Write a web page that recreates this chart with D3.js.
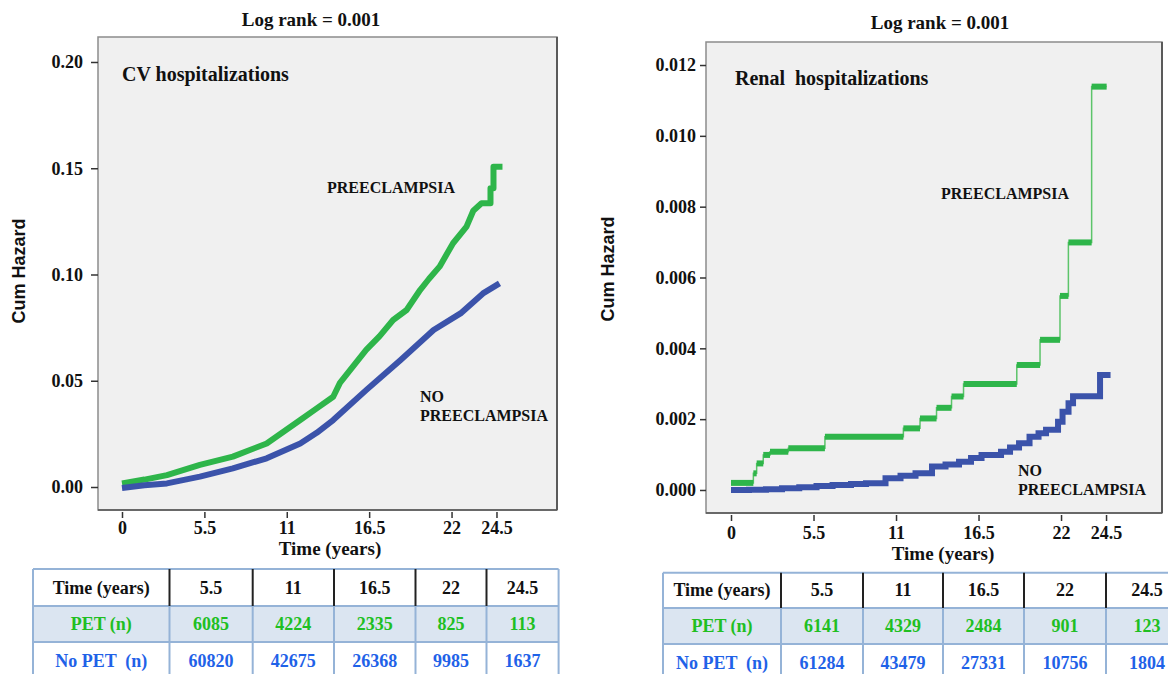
<!DOCTYPE html>
<html><head><meta charset="utf-8">
<script src="https://cdn.jsdelivr.net/npm/d3@7"></script>
<style>body{margin:0;background:#fff}svg{display:block}</style>
</head><body>
<svg id="c" width="1168" height="674"></svg>
<script>
// ---------------- DATA ----------------
const timeTicks = [0, 5.5, 11, 16.5, 22, 25];
const timeTickLabels = ["0", "5.5", "11", "16.5", "22", "24.5"];
const cvYTicks = [0, 0.05, 0.10, 0.15, 0.20];
const renalYTicks = [0, 0.002, 0.004, 0.006, 0.008, 0.010, 0.012];

// CV hospitalizations, cumulative hazard
const cvPETTime   = [0, 1.5, 3.0, 5.2, 7.4, 9.66, 11.9, 13.0, 14.1, 14.55, 16.3, 17.2, 18.1, 19.0, 19.9, 20.5, 21.2, 22.1, 23.0, 23.45, 24.0, 24.6, 24.6, 24.8, 24.8, 25.4];
const cvPETHazard = [0.0017, 0.0035, 0.0056, 0.0104, 0.0143, 0.0205, 0.0315, 0.037, 0.0425, 0.049, 0.0645, 0.071, 0.0786, 0.0833, 0.0927, 0.098, 0.1037, 0.1147, 0.1225, 0.130, 0.1335, 0.1335, 0.1406, 0.1406, 0.1507, 0.1507];
const cvNoPETTime   = [0, 1.5, 3.0, 5.2, 7.4, 9.66, 11.9, 13.0, 14.1, 16.3, 18.6, 20.8, 22.6, 24.1, 25.2];
const cvNoPETHazard = [-0.0005, 0.0008, 0.0017, 0.0049, 0.0088, 0.0135, 0.0205, 0.0255, 0.0315, 0.0456, 0.0598, 0.0739, 0.0817, 0.0911, 0.0958];

// Renal hospitalizations, cumulative hazard (step starts)
const renalPETTime   = [0, 1.49, 1.71, 2.15, 2.6, 3.82, 6.26, 11.49, 12.6, 13.7, 14.7, 15.5, 19.05, 20.6, 21.93, 22.49, 24.04, 25.04];
const renalPETHazard = [0.0002, 0.00047, 0.00075, 0.00099, 0.00108, 0.00118, 0.0015, 0.00174, 0.00202, 0.00232, 0.00264, 0.00299, 0.00353, 0.00424, 0.00548, 0.00699, 0.01139, 0.01139];
const renalNoPETTime   = [0, 1.2, 2.33, 3.4, 4.55, 5.7, 6.77, 8.0, 9.0, 10.3, 11.3, 12.3, 13.4, 14.3, 15.2, 16.0, 16.7, 18.0, 18.6, 19.2, 19.9, 20.5, 21.0, 21.8, 22.1, 22.5, 22.8, 24.6, 25.3];
const renalNoPETHazard = [0, 0.00001, 0.00002, 0.00005, 0.00008, 0.00011, 0.00014, 0.00017, 0.00019, 0.00033, 0.0004, 0.00047, 0.00066, 0.00072, 0.0008, 0.0009, 0.00099, 0.00108, 0.0012, 0.00132, 0.0015, 0.0016, 0.0017, 0.00193, 0.00221, 0.00245, 0.00265, 0.00325, 0.00325];

// Numbers at risk tables
const tableHeader = ["Time (years)", "5.5", "11", "16.5", "22", "24.5"];
const cvPETn = [6085, 4224, 2335, 825, 113];
const cvNoPETn = [60820, 42675, 26368, 9985, 1637];
const renalPETn = [6141, 4329, 2484, 901, 123];
const renalNoPETn = [61284, 43479, 27331, 10756, 1804];

// ---------------- DRAW ----------------
const svg = d3.select("#c");
const SERIF = "'Liberation Serif','Times New Roman',serif";
const SANS = "'Liberation Sans',Arial,sans-serif";
const GREEN = "#2eb54a", GREEN_THIN = "#5cc46a", BLUE = "#3b53aa";
const TXT = "#111";

function zip(t, v) { return t.map((d, i) => ({t: d, v: v[i]})); }

function txt(x, y, s, size, opts = {}) {
  return svg.append("text").attr("x", x).attr("y", y).text(s)
    .attr("font-family", opts.family || SERIF).attr("font-weight", "bold")
    .attr("font-size", size).attr("fill", opts.fill || TXT)
    .attr("text-anchor", opts.anchor || "start")
    .style("white-space", "pre");
}

function panel(cfg) {
  const x = d3.scaleLinear().domain(cfg.xDomain).range([cfg.x0, cfg.x1]);
  const y = d3.scaleLinear().domain(cfg.yDomain).range([cfg.y1, cfg.y0]);

  svg.append("rect").attr("x", cfg.x0).attr("y", cfg.y0)
    .attr("width", cfg.x1 - cfg.x0).attr("height", cfg.y1 - cfg.y0)
    .attr("fill", "#f0f0f0").attr("stroke", "#8c8c8c").attr("stroke-width", 1.5);
  svg.append("line").attr("x1", cfg.x1).attr("x2", cfg.x1).attr("y1", cfg.y0).attr("y2", cfg.y1)
    .attr("stroke", "#5a5a5a").attr("stroke-width", 2);
  svg.append("line").attr("x1", cfg.x0).attr("x2", cfg.x1).attr("y1", cfg.y1).attr("y2", cfg.y1)
    .attr("stroke", "#555").attr("stroke-width", 1.5);

  // y axis
  const gy = svg.append("g").attr("transform", `translate(${cfg.x0},0)`)
    .call(d3.axisLeft(y).tickValues(cfg.yTicks).tickFormat(cfg.yFmt)
      .tickSize(cfg.yTickSize).tickPadding(cfg.yTickPad));
  gy.select(".domain").remove();
  gy.selectAll("line").attr("stroke", "#333").attr("stroke-width", 1.5);
  gy.selectAll("text").attr("font-family", SERIF).attr("font-weight", "bold")
    .attr("font-size", 18).attr("fill", TXT);

  // x axis
  const gx = svg.append("g").attr("transform", `translate(0,${cfg.y1 + 2})`)
    .call(d3.axisBottom(x).tickValues(timeTicks).tickFormat((d, i) => timeTickLabels[i])
      .tickSize(6).tickPadding(cfg.xTickPad));
  gx.select(".domain").remove();
  gx.selectAll("line").attr("stroke", "#333").attr("stroke-width", 1.5);
  gx.selectAll("text").attr("font-family", SERIF).attr("font-weight", "bold")
    .attr("font-size", 18).attr("fill", TXT);

  // curves
  cfg.draw(x, y);

  // texts
  txt(cfg.titleX, cfg.titleY, "Log rank = 0.001", 19, {anchor: "middle"});
  txt(cfg.x0 + cfg.subDX, cfg.subY, cfg.subtitle, 20);
  txt(cfg.pre[0], cfg.pre[1], "PREECLAMPSIA", 16);
  txt(cfg.no[0], cfg.no[1], "NO", 16);
  txt(cfg.no[0], cfg.no[1] + 19, "PREECLAMPSIA", 16);
  txt(cfg.timeX, cfg.timeY, "Time (years)", 19, {anchor: "middle"});
  svg.append("text").attr("transform", `translate(${cfg.yLabX},${cfg.yLabY}) rotate(-90)`)
    .attr("text-anchor", "middle").attr("dominant-baseline", "central")
    .attr("font-family", SANS).attr("font-weight", "bold").attr("font-size", 18)
    .attr("fill", TXT).text("Cum Hazard");
}

// Left panel: CV hospitalizations
panel({
  x0: 98, x1: 557, y0: 37, y1: 510,
  xDomain: [-1.602, 29.04], yDomain: [-0.01082, 0.21176],
  yTicks: cvYTicks, yFmt: d3.format(".2f"), yTickSize: 7, yTickPad: 8, xTickPad: 3,
  titleX: 311, titleY: 26, subtitle: "CV hospitalizations", subDX: 24, subY: 81,
  pre: [327, 193], no: [420, 402], timeX: 330, timeY: 555,
  yLabX: 19, yLabY: 271,
  draw(x, y) {
    const line = d3.line().x(d => x(d.t)).y(d => y(d.v));
    svg.append("path").datum(zip(cvPETTime, cvPETHazard)).attr("d", line)
      .attr("fill", "none").attr("stroke", GREEN).attr("stroke-width", 6).attr("stroke-linejoin", "round");
    svg.append("path").datum(zip(cvNoPETTime, cvNoPETHazard)).attr("d", line)
      .attr("fill", "none").attr("stroke", BLUE).attr("stroke-width", 6).attr("stroke-linejoin", "round");
  }
});

// Right panel: Renal hospitalizations
panel({
  x0: 706, x1: 1162, y0: 42, y1: 513,
  xDomain: [-1.667, 28.73], yDomain: [-0.00065, 0.01265],
  yTicks: renalYTicks, yFmt: d3.format(".3f"), yTickSize: 6, yTickPad: 4, xTickPad: 5,
  titleX: 940, titleY: 29, subtitle: "Renal  hospitalizations", subDX: 29, subY: 85,
  pre: [941, 199], no: [1018, 476], timeX: 943, timeY: 560,
  yLabX: 608, yLabY: 269,
  draw(x, y) {
    const pet = zip(renalPETTime, renalPETHazard);
    svg.append("path").datum(pet)
      .attr("d", d3.line().curve(d3.curveStepAfter).x(d => x(d.t)).y(d => y(d.v)))
      .attr("fill", "none").attr("stroke", GREEN_THIN).attr("stroke-width", 1.5);
    svg.append("g").selectAll("line").data(pet.slice(0, -1)).join("line")
      .attr("x1", d => x(d.t)).attr("x2", (d, i) => x(pet[i + 1].t))
      .attr("y1", d => y(d.v)).attr("y2", d => y(d.v))
      .attr("stroke", GREEN).attr("stroke-width", 6);
    svg.append("path").datum(zip(renalNoPETTime, renalNoPETHazard))
      .attr("d", d3.line().curve(d3.curveStepAfter).x(d => x(d.t)).y(d => y(d.v)))
      .attr("fill", "none").attr("stroke", BLUE).attr("stroke-width", 6);
  }
});

// Tables
function table(cfg) {
  const xs = [cfg.x];
  cfg.colW.forEach(w => xs.push(xs[xs.length - 1] + w));
  const ys = [cfg.y];
  cfg.rowH.forEach(h => ys.push(ys[ys.length - 1] + h));
  const rows = [
    {cells: tableHeader, fill: "#ffffff", color: TXT},
    {cells: ["PET (n)", ...cfg.pet], fill: "#dbe5f1", color: "#20bf22"},
    {cells: ["No PET  (n)", ...cfg.nopet], fill: "#ffffff", color: "#1f62e8"}
  ];
  const g = svg.append("g");
  rows.forEach((r, ri) => {
    g.append("rect").attr("x", xs[0]).attr("y", ys[ri]).attr("width", xs[xs.length - 1] - xs[0])
      .attr("height", ys[ri + 1] - ys[ri]).attr("fill", r.fill);
    r.cells.forEach((c, ci) => {
      g.append("text").attr("x", (xs[ci] + xs[ci + 1]) / 2).attr("y", (ys[ri] + ys[ri + 1]) / 2 + 6)
        .attr("text-anchor", "middle").attr("font-family", SERIF).attr("font-weight", "bold")
        .attr("font-size", 18).attr("fill", r.color).style("white-space", "pre").text(c);
    });
  });
  const LB = "#95b3d7";
  ys.forEach(yv => g.append("line").attr("x1", xs[0]).attr("x2", xs[xs.length - 1])
    .attr("y1", yv).attr("y2", yv).attr("stroke", LB).attr("stroke-width", 2));
  xs.forEach((xv, i) => {
    const inner = i > 0 && i < xs.length - 1;
    g.append("line").attr("x1", xv).attr("x2", xv).attr("y1", ys[1]).attr("y2", ys[ys.length - 1])
      .attr("stroke", LB).attr("stroke-width", 2);
    g.append("line").attr("x1", xv).attr("x2", xv).attr("y1", ys[0]).attr("y2", ys[1])
      .attr("stroke", inner ? "#222" : LB).attr("stroke-width", 2);
  });
}

table({x: 33, y: 569, colW: [136.5, 83.2, 81.3, 81.5, 71, 72.1], rowH: [37, 36, 37],
  pet: cvPETn, nopet: cvNoPETn});
table({x: 663, y: 572.7, colW: [118, 82, 80, 81, 82, 82], rowH: [35.3, 36, 37],
  pet: renalPETn, nopet: renalNoPETn});
</script>
</body></html>
